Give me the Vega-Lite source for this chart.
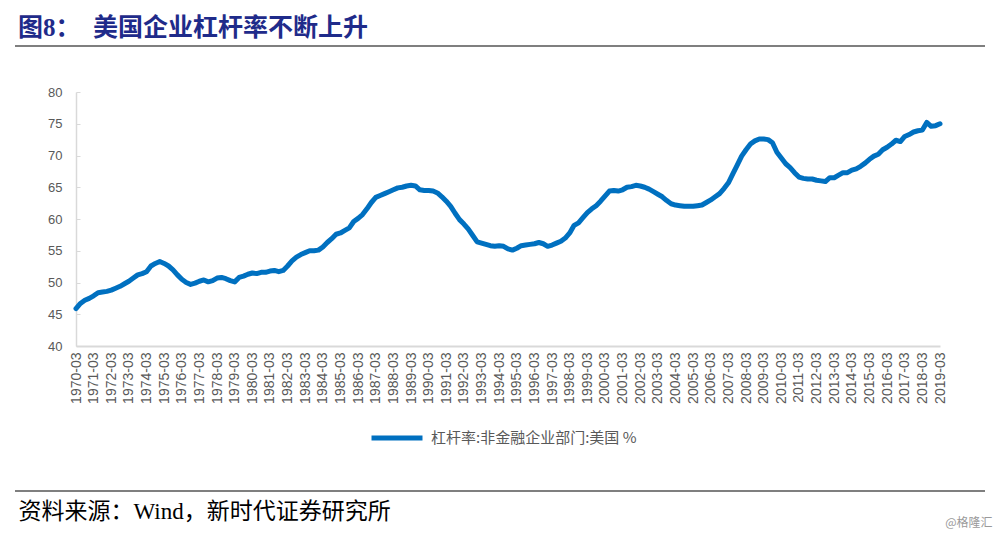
{
  "$schema": "https://vega.github.io/schema/vega-lite/v6.json",
  "autosize": {"type": "none"},
  "padding": {"left": 15, "top": 46, "right": 15, "bottom": 46},
  "width": 970,
  "height": 445,
  "background": "white",
  "title": {
    "text": "图8：　美国企业杠杆率不断上升",
    "anchor": "start",
    "frame": "group",
    "orient": "top",
    "offset": 5,
    "dx": 3,
    "font": "Liberation Serif, Noto Sans CJK SC",
    "fontSize": 25,
    "fontWeight": "bold",
    "color": "#1F2B8A"
  },
  "data": {
    "values": [
      {"q": "1970-03", "v": 45.9}, {"q": "1970-06", "v": 46.7}, {"q": "1970-09", "v": 47.2}, {"q": "1970-12", "v": 47.5},
      {"q": "1971-03", "v": 47.9}, {"q": "1971-06", "v": 48.4}, {"q": "1971-09", "v": 48.5}, {"q": "1971-12", "v": 48.6},
      {"q": "1972-03", "v": 48.8}, {"q": "1972-06", "v": 49.1}, {"q": "1972-09", "v": 49.4}, {"q": "1972-12", "v": 49.8},
      {"q": "1973-03", "v": 50.2}, {"q": "1973-06", "v": 50.7}, {"q": "1973-09", "v": 51.2}, {"q": "1973-12", "v": 51.4},
      {"q": "1974-03", "v": 51.7}, {"q": "1974-06", "v": 52.6}, {"q": "1974-09", "v": 53.0}, {"q": "1974-12", "v": 53.3},
      {"q": "1975-03", "v": 53.0}, {"q": "1975-06", "v": 52.6}, {"q": "1975-09", "v": 52.0}, {"q": "1975-12", "v": 51.2},
      {"q": "1976-03", "v": 50.5}, {"q": "1976-06", "v": 50.0}, {"q": "1976-09", "v": 49.7}, {"q": "1976-12", "v": 49.9},
      {"q": "1977-03", "v": 50.2}, {"q": "1977-06", "v": 50.4}, {"q": "1977-09", "v": 50.1}, {"q": "1977-12", "v": 50.3},
      {"q": "1978-03", "v": 50.7}, {"q": "1978-06", "v": 50.8}, {"q": "1978-09", "v": 50.6}, {"q": "1978-12", "v": 50.3},
      {"q": "1979-03", "v": 50.1}, {"q": "1979-06", "v": 50.8}, {"q": "1979-09", "v": 51.0}, {"q": "1979-12", "v": 51.3},
      {"q": "1980-03", "v": 51.5}, {"q": "1980-06", "v": 51.4}, {"q": "1980-09", "v": 51.6}, {"q": "1980-12", "v": 51.6},
      {"q": "1981-03", "v": 51.8}, {"q": "1981-06", "v": 51.9}, {"q": "1981-09", "v": 51.7}, {"q": "1981-12", "v": 51.9},
      {"q": "1982-03", "v": 52.6}, {"q": "1982-06", "v": 53.4}, {"q": "1982-09", "v": 54.0}, {"q": "1982-12", "v": 54.4},
      {"q": "1983-03", "v": 54.7}, {"q": "1983-06", "v": 55.0}, {"q": "1983-09", "v": 55.0}, {"q": "1983-12", "v": 55.1},
      {"q": "1984-03", "v": 55.6}, {"q": "1984-06", "v": 56.3}, {"q": "1984-09", "v": 56.9}, {"q": "1984-12", "v": 57.6},
      {"q": "1985-03", "v": 57.8}, {"q": "1985-06", "v": 58.2}, {"q": "1985-09", "v": 58.6}, {"q": "1985-12", "v": 59.6},
      {"q": "1986-03", "v": 60.1}, {"q": "1986-06", "v": 60.7}, {"q": "1986-09", "v": 61.6}, {"q": "1986-12", "v": 62.6},
      {"q": "1987-03", "v": 63.4}, {"q": "1987-06", "v": 63.7}, {"q": "1987-09", "v": 64.0}, {"q": "1987-12", "v": 64.3},
      {"q": "1988-03", "v": 64.6}, {"q": "1988-06", "v": 64.9}, {"q": "1988-09", "v": 65.0}, {"q": "1988-12", "v": 65.2},
      {"q": "1989-03", "v": 65.3}, {"q": "1989-06", "v": 65.2}, {"q": "1989-09", "v": 64.6}, {"q": "1989-12", "v": 64.5},
      {"q": "1990-03", "v": 64.5}, {"q": "1990-06", "v": 64.4}, {"q": "1990-09", "v": 64.1}, {"q": "1990-12", "v": 63.5},
      {"q": "1991-03", "v": 62.8}, {"q": "1991-06", "v": 62.0}, {"q": "1991-09", "v": 60.9}, {"q": "1991-12", "v": 59.9},
      {"q": "1992-03", "v": 59.2}, {"q": "1992-06", "v": 58.4}, {"q": "1992-09", "v": 57.4}, {"q": "1992-12", "v": 56.4},
      {"q": "1993-03", "v": 56.2}, {"q": "1993-06", "v": 56.0}, {"q": "1993-09", "v": 55.8}, {"q": "1993-12", "v": 55.7},
      {"q": "1994-03", "v": 55.8}, {"q": "1994-06", "v": 55.7}, {"q": "1994-09", "v": 55.3}, {"q": "1994-12", "v": 55.1},
      {"q": "1995-03", "v": 55.4}, {"q": "1995-06", "v": 55.8}, {"q": "1995-09", "v": 55.9}, {"q": "1995-12", "v": 56.0},
      {"q": "1996-03", "v": 56.1}, {"q": "1996-06", "v": 56.3}, {"q": "1996-09", "v": 56.1}, {"q": "1996-12", "v": 55.7},
      {"q": "1997-03", "v": 55.9}, {"q": "1997-06", "v": 56.2}, {"q": "1997-09", "v": 56.5}, {"q": "1997-12", "v": 57.0},
      {"q": "1998-03", "v": 57.8}, {"q": "1998-06", "v": 59.0}, {"q": "1998-09", "v": 59.4}, {"q": "1998-12", "v": 60.2},
      {"q": "1999-03", "v": 61.0}, {"q": "1999-06", "v": 61.6}, {"q": "1999-09", "v": 62.1}, {"q": "1999-12", "v": 62.8},
      {"q": "2000-03", "v": 63.6}, {"q": "2000-06", "v": 64.4}, {"q": "2000-09", "v": 64.5}, {"q": "2000-12", "v": 64.4},
      {"q": "2001-03", "v": 64.6}, {"q": "2001-06", "v": 65.0}, {"q": "2001-09", "v": 65.1}, {"q": "2001-12", "v": 65.3},
      {"q": "2002-03", "v": 65.2}, {"q": "2002-06", "v": 65.0}, {"q": "2002-09", "v": 64.7}, {"q": "2002-12", "v": 64.3},
      {"q": "2003-03", "v": 63.9}, {"q": "2003-06", "v": 63.5}, {"q": "2003-09", "v": 62.9}, {"q": "2003-12", "v": 62.4},
      {"q": "2004-03", "v": 62.2}, {"q": "2004-06", "v": 62.1}, {"q": "2004-09", "v": 62.0}, {"q": "2004-12", "v": 62.0},
      {"q": "2005-03", "v": 62.0}, {"q": "2005-06", "v": 62.1}, {"q": "2005-09", "v": 62.2}, {"q": "2005-12", "v": 62.6},
      {"q": "2006-03", "v": 63.0}, {"q": "2006-06", "v": 63.5}, {"q": "2006-09", "v": 64.0}, {"q": "2006-12", "v": 64.8},
      {"q": "2007-03", "v": 65.7}, {"q": "2007-06", "v": 67.1}, {"q": "2007-09", "v": 68.5}, {"q": "2007-12", "v": 69.9},
      {"q": "2008-03", "v": 70.9}, {"q": "2008-06", "v": 71.8}, {"q": "2008-09", "v": 72.3}, {"q": "2008-12", "v": 72.6},
      {"q": "2009-03", "v": 72.6}, {"q": "2009-06", "v": 72.5}, {"q": "2009-09", "v": 72.0}, {"q": "2009-12", "v": 70.5},
      {"q": "2010-03", "v": 69.6}, {"q": "2010-06", "v": 68.7}, {"q": "2010-09", "v": 68.1}, {"q": "2010-12", "v": 67.3},
      {"q": "2011-03", "v": 66.6}, {"q": "2011-06", "v": 66.4}, {"q": "2011-09", "v": 66.3}, {"q": "2011-12", "v": 66.3},
      {"q": "2012-03", "v": 66.1}, {"q": "2012-06", "v": 66.0}, {"q": "2012-09", "v": 65.9}, {"q": "2012-12", "v": 66.5},
      {"q": "2013-03", "v": 66.5}, {"q": "2013-06", "v": 66.9}, {"q": "2013-09", "v": 67.3}, {"q": "2013-12", "v": 67.3},
      {"q": "2014-03", "v": 67.7}, {"q": "2014-06", "v": 67.9}, {"q": "2014-09", "v": 68.3}, {"q": "2014-12", "v": 68.8},
      {"q": "2015-03", "v": 69.4}, {"q": "2015-06", "v": 69.9}, {"q": "2015-09", "v": 70.2}, {"q": "2015-12", "v": 70.9},
      {"q": "2016-03", "v": 71.3}, {"q": "2016-06", "v": 71.8}, {"q": "2016-09", "v": 72.4}, {"q": "2016-12", "v": 72.2},
      {"q": "2017-03", "v": 73.0}, {"q": "2017-06", "v": 73.3}, {"q": "2017-09", "v": 73.7}, {"q": "2017-12", "v": 73.9},
      {"q": "2018-03", "v": 74.0}, {"q": "2018-06", "v": 75.2}, {"q": "2018-09", "v": 74.6}, {"q": "2018-12", "v": 74.7},
      {"q": "2019-03", "v": 75.0}
    ]
  },
  "mark": {"type": "line", "strokeWidth": 5, "strokeCap": "round", "strokeJoin": "round"},
  "encoding": {
    "x": {
      "field": "q",
      "type": "ordinal",
      "sort": null,
      "scale": {"type": "point", "range": [61, 925], "padding": 0},
      "axis": {
        "values": ["1970-03","1971-03","1972-03","1973-03","1974-03","1975-03","1976-03","1977-03","1978-03","1979-03","1980-03","1981-03","1982-03","1983-03","1984-03","1985-03","1986-03","1987-03","1988-03","1989-03","1990-03","1991-03","1992-03","1993-03","1994-03","1995-03","1996-03","1997-03","1998-03","1999-03","2000-03","2001-03","2002-03","2003-03","2004-03","2005-03","2006-03","2007-03","2008-03","2009-03","2010-03","2011-03","2012-03","2013-03","2014-03","2015-03","2016-03","2017-03","2018-03","2019-03"],
        "offset": -145,
        "labelAngle": -90,
        "labelAlign": "right",
        "labelBaseline": "middle",
        "labelPadding": 6,
        "labelFont": "Liberation Sans",
        "labelFontSize": 14,
        "labelColor": "#595959",
        "labelOverlap": false,
        "ticks": false,
        "domainColor": "#d9d9d9",
        "domainWidth": 2,
        "grid": false,
        "title": "资料来源：Wind，新时代证券研究所",
        "titleAnchor": "start",
        "titleAlign": "left",
        "titleBaseline": "alphabetic",
        "titleAngle": 0,
        "titleX": 3,
        "titleY": 172,
        "titleFont": "Liberation Serif, Noto Sans CJK SC",
        "titleFontSize": 23,
        "titleFontWeight": "normal",
        "titleColor": "#000000"
      }
    },
    "y": {
      "field": "v",
      "type": "quantitative",
      "scale": {"domain": [40, 80], "range": [300, 46], "nice": false, "zero": false},
      "axis": {
        "values": [40, 45, 50, 55, 60, 65, 70, 75, 80],
        "offset": -61,
        "tickSize": -4,
        "tickColor": "#d9d9d9",
        "tickWidth": 1,
        "labelPadding": 18,
        "labelFont": "Liberation Sans",
        "labelFontSize": 13,
        "labelColor": "#595959",
        "domainColor": "#d9d9d9",
        "domainWidth": 1.5,
        "grid": false,
        "title": "@格隆汇",
        "titleAngle": 0,
        "titleAlign": "right",
        "titleBaseline": "middle",
        "titleX": 916,
        "titleY": 476,
        "titleFont": "Noto Sans CJK SC",
        "titleFontSize": 12,
        "titleFontWeight": "normal",
        "titleColor": "#9a9a9a"
      }
    },
    "color": {
      "datum": "杠杆率:非金融企业部门:美国 %",
      "type": "nominal",
      "scale": {"range": ["#0070C0"]},
      "legend": {
        "orient": "none",
        "legendX": 354,
        "legendY": 364,
        "padding": 0,
        "title": null,
        "symbolType": "stroke",
        "symbolSize": 2600,
        "symbolStrokeWidth": 5,
        "labelOffset": 6,
        "labelFont": "Noto Sans CJK SC",
        "labelFontSize": 15,
        "labelColor": "#595959",
        "labelLimit": 400
      }
    }
  },
  "config": {
    "view": {"stroke": "#7f7f7f", "strokeWidth": 2, "strokeDash": [970, 445, 970, 445]}
  }
}
